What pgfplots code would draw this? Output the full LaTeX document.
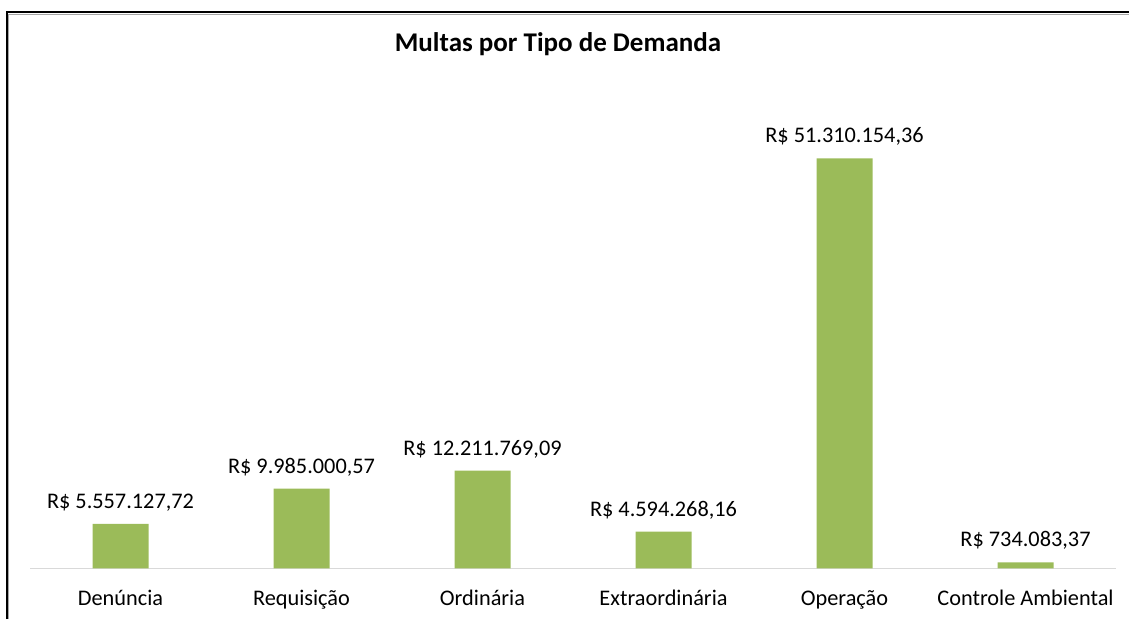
\documentclass[border=0pt]{standalone}
\usepackage{pgfplots}
\usepackage{pgfplotstable}
\usepackage{fontspec}
\setmainfont{Carlito}
\pgfplotsset{compat=1.18}
\definecolor{bargreen}{HTML}{9BBB59}
\definecolor{baseline}{HTML}{D9D9D9}
\pgfplotstableread{
x y label
0 5557127.72 {R\$ 5.557.127,72}
1 9985000.57 {R\$ 9.985.000,57}
2 12211769.09 {R\$ 12.211.769,09}
3 4594268.16 {R\$ 4.594.268,16}
4 51310154.36 {R\$ 51.310.154,36}
5 734083.37 {R\$ 734.083,37}
}\datatable
\begin{document}
\begin{tikzpicture}[x=1pt,y=1pt]
\useasboundingbox (0,0) rectangle (1129,619);
\draw[line width=2pt,black] (6.5,0) -- (6.5,606.5) -- (1129,606.5);
\draw[line width=1pt,black!35] (8.5,0) -- (8.5,604.5) -- (1129,604.5);
\node[font=\fontsize{27}{32}\selectfont\bfseries, anchor=base] at (558,619-51.7) {Multas por Tipo de Demanda};
\begin{axis}[
  at={(120.5pt,50.7pt)}, anchor=origin,
  scale only axis,
  width=1086pt, height=480pt,
  xmin=-0.5, xmax=5.5,
  ymin=0, ymax=60075000,
  axis x line*=bottom,
  axis y line=none,
  x axis line style={draw=baseline, line width=1.3pt},
  xtick=data,
  xticklabels={Denúncia,Requisição,Ordinária,Extraordinária,Operação,Controle Ambiental},
  major tick length=0pt,
  xticklabel style={anchor=base, yshift=-37pt, font=\fontsize{22.3}{26}\selectfont, inner sep=0pt},
  ytick=\empty,
  clip=false,
]
\addplot[ybar, bar width=56pt, fill=bargreen, draw=none,
  point meta=explicit symbolic,
  nodes near coords,
  every node near coord/.append style={anchor=base, yshift=15.5pt, inner sep=0pt, font=\fontsize{22.3}{26}\selectfont, text=black},
] table[x=x, y=y, meta=label] {\datatable};
\end{axis}
\end{tikzpicture}
\end{document}
